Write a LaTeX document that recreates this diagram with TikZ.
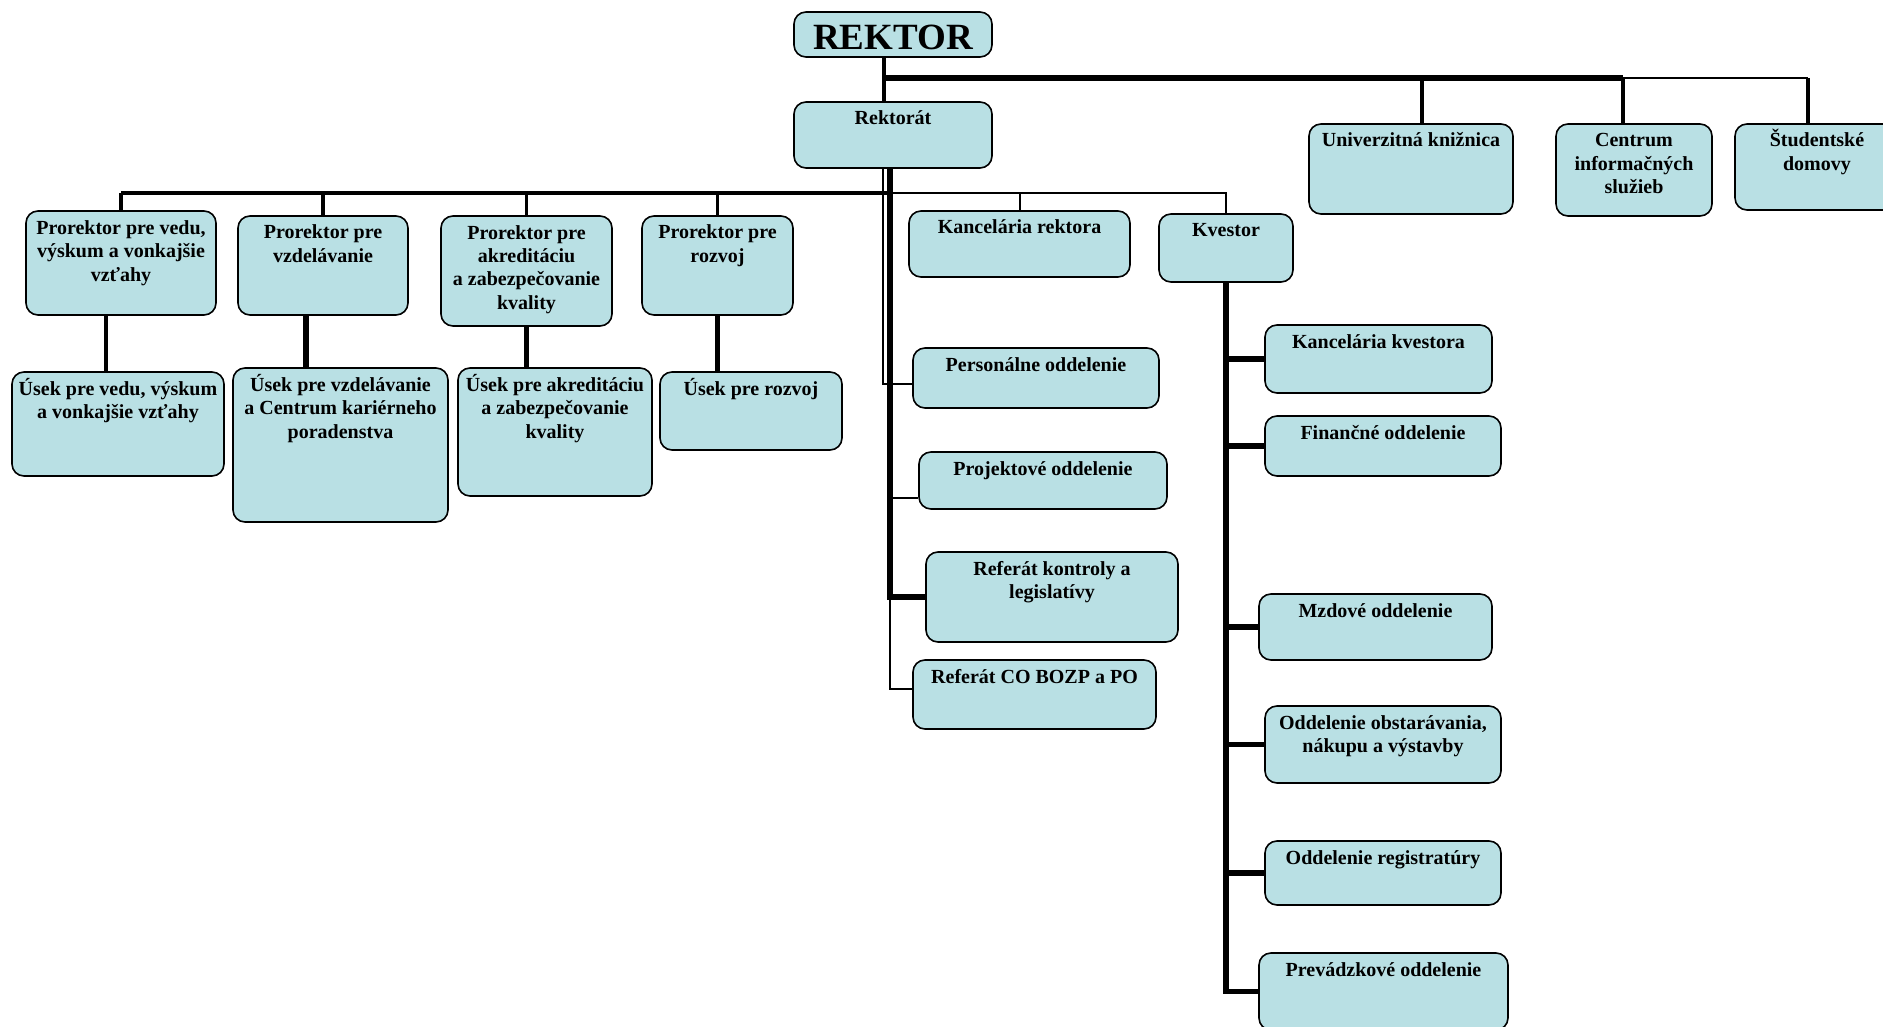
\documentclass[tikz,border=0pt]{standalone}
\usepackage{fontspec}
\setmainfont{Liberation Serif}
\definecolor{boxfill}{RGB}{185,224,228}
\newcommand{\boxtext}[4][23]{\parbox[c][#3pt][t]{#2pt}{\centering\rule{0pt}{#1pt}#4}}
\begin{document}
\begin{tikzpicture}
    [%%%%%%%%%%%%%%%%%%%%%%%%%%%%%%
        x=1pt, y=-1pt,
        box/.style={draw=black, line width=1.6pt, fill=boxfill, rounded corners=12pt,
                    inner sep=0pt, font=\fontsize{20}{23.5}\selectfont\bfseries},
        thinline/.style={line width=2pt},
        midline/.style={line width=3.2pt},
        thickline/.style={line width=5.5pt}
    ]%%%%%%%%%%%%%%%%%%%%%%%%%%%%%%

  \useasboundingbox (0,0) rectangle (1883,1027);

  % top
  \node[box, font=\fontsize{37}{40}\selectfont\bfseries] (rektor) at (893,34.5) {\boxtext[38]{198}{45}{REKTOR}};
  \node[box] (rektorat) at (893,135) {\boxtext{198}{66}{Rektorát}};
  \node[box] (kn) at (1411,169) {\boxtext{204}{90}{Univerzitná knižnica}};
  \node[box] (cis) at (1634,170) {\boxtext{156}{92}{Centrum\\ informačných\\ služieb}};
  \node[box] (sd) at (1817,167) {\boxtext{164}{86}{Študentské\\ domovy}};

  % prorektori, kancelaria, kvestor
  \node[box] (pvv) at (121,263) {\boxtext{190}{104}{Prorektor pre vedu,\\ výskum a vonkajšie\\ vzťahy}};
  \node[box] (pvz) at (323,265.5) {\boxtext{170}{99}{Prorektor pre\\ vzdelávanie}};
  \node[box] (pak) at (526.5,271) {\boxtext{171}{110}{Prorektor pre\\ akreditáciu\\ a zabezpečovanie\\ kvality}};
  \node[box] (prz) at (717.5,265.5) {\boxtext{151}{99}{Prorektor pre\\ rozvoj}};
  \node[box] (kr) at (1019.5,244) {\boxtext{221}{66}{Kancelária rektora}};
  \node[box] (kv) at (1226,248) {\boxtext{134}{68}{Kvestor}};

  % useky
  \node[box] (uvv) at (118,424) {\boxtext{212}{104}{Úsek pre vedu, výskum\\ a vonkajšie vzťahy}};
  \node[box] (uvz) at (340.5,445) {\boxtext{215}{154}{Úsek pre vzdelávanie\\ a Centrum kariérneho\\ poradenstva}};
  \node[box] (uak) at (555,432) {\boxtext{194}{128}{Úsek pre akreditáciu\\ a zabezpečovanie\\ kvality}};
  \node[box] (urz) at (751,411) {\boxtext{182}{78}{Úsek pre rozvoj}};

  % rektorat
  \node[box] (po) at (1036,378) {\boxtext{246}{60}{Personálne oddelenie}};
  \node[box] (pr) at (1043,480.5) {\boxtext{248}{57}{Projektové oddelenie}};
  \node[box] (rk) at (1052,597) {\boxtext{252}{90}{Referát kontroly a\\ legislatívy}};
  \node[box] (rc) at (1034.5,694.5) {\boxtext{243}{69}{Referát CO BOZP a PO}};

  % kvestor
  \node[box] (kk) at (1378.5,359) {\boxtext{227}{68}{Kancelária kvestora}};
  \node[box] (fo) at (1383,446) {\boxtext{236}{60}{Finančné oddelenie}};
  \node[box] (mo) at (1375.5,627) {\boxtext{233}{66}{Mzdové oddelenie}};
  \node[box] (ob) at (1383,744.5) {\boxtext{236}{77}{Oddelenie obstarávania,\\ nákupu a výstavby}};
  \node[box] (reg) at (1383,873) {\boxtext{236}{64}{Oddelenie registratúry}};
  \node[box] (pv) at (1383.5,991.5) {\boxtext{249}{77}{Prevádzkové oddelenie}};

  % top lines
  \coordinate (tb) at (884,78);
  \coordinate (tbk) at ([xshift=11pt]kn.north);
  \coordinate (tbc) at ([xshift=-11pt]cis.north);
  \coordinate (tbs) at ([xshift=-9pt]sd.north);
  \draw[midline] ([xshift=-9pt]rektor.south) -- ([xshift=-9pt]rektorat.north);
  \draw[thickline] (tb) -- (tb -| tbc);
  \draw[thinline] (tb -| tbc) -- (tb -| tbs);
  \foreach \d in {tbk,tbc,tbs}
      \draw[midline] (tb -| \d) -- (\d);

  % second level
  \coordinate (ra) at ([xshift=-10pt]rektorat.south);
  \coordinate (rb) at ([xshift=-3pt]rektorat.south);
  \coordinate (lb) at (rb |- 0,193);
  \draw[midline] (pvv.north |- lb) -- (lb);
  \foreach \n in {pvv,pvz,pak,prz}
      \draw[midline] (lb -| \n.north) -- (\n.north);
  \draw[thinline] (lb) -| (kv.north);
  \draw[thinline] (lb -| kr.north) -- (kr.north);

  % prorektor -> usek
  \draw[midline] ([xshift=-15pt]pvv.south) -- ([xshift=-15pt]pvv.south |- uvv.north);
  \draw[thickline] ([xshift=-17pt]pvz.south) -- ([xshift=-17pt]pvz.south |- uvz.north);
  \draw[thickline] (pak.south) -- (pak.south |- uak.north);
  \draw[thickline] (prz.south) -- (prz.south |- urz.north);

  % rektorat column
  \coordinate (pow) at ([yshift=-6pt]po.west);
  \coordinate (prw) at ([yshift=-17pt]pr.west);
  \coordinate (rcw) at ([yshift=6pt]rc.west);
  \draw[thinline] (ra) |- (pow);
  \draw[thickline] (rb) |- (rk.west);
  \draw[thinline] (rb |- prw) -- (prw);
  \draw[thinline] (rb |- rk.west) |- (rcw);

  % kvestor column
  \draw[thickline] (kv.south) |- (pv.west);
  \foreach \n in {kk,fo,mo,ob,reg}
      \draw[thickline] (kv.south |- \n.west) -- (\n.west);

\end{tikzpicture}
\end{document}
